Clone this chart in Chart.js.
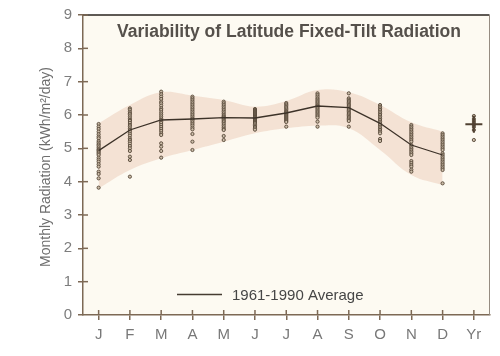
<!DOCTYPE html>
<html>
<head>
<meta charset="utf-8">
<script src="https://cdn.jsdelivr.net/npm/chart.js@4"></script>
<style>
html,body{margin:0;padding:0;background:#ffffff;}
#wrap{width:500px;height:356px;position:relative;}
</style>
</head>
<body>
<div id="wrap"><canvas id="c" width="500" height="356"></canvas></div>
<script>
const months = ['J','F','M','A','M ','J ','J  ','A ','S','O','N','D','Yr'];
const monthLabels = ['J','F','M','A','M','J','J','A','S','O','N','D','Yr'];
const average = [4.93, 5.55, 5.85, 5.88, 5.92, 5.91, 6.06, 6.27, 6.22, 5.75, 5.1, 4.8, null];
const bandHigh = [5.75, 6.3, 6.68, 6.58, 6.45, 6.25, 6.42, 6.75, 6.68, 6.3, 5.78, 5.5, null];
const bandLow  = [3.8, 4.35, 4.7, 4.95, 5.2, 5.45, 5.6, 5.68, 5.6, 4.95, 4.2, 3.9, null];
const yearAverage = 5.72;

const janVals = [5.73,5.65,5.58,5.5,5.42,5.35,5.3,5.22,5.17,5.12,5.08,5.03,4.98,4.95,4.92,4.88,4.84,4.8,4.72,4.66,4.6,4.52,4.45,4.3,4.23,4.1,3.82];
const febVals = [6.2,6.16,6.1,6.05,6.02,5.96,5.9,5.85,5.82,5.76,5.7,5.66,5.6,5.55,5.5,5.44,5.38,5.3,5.25,5.2,5.14,5.07,5.0,4.92,4.75,4.65,4.15];
const marVals = [6.7,6.62,6.55,6.48,6.4,6.35,6.28,6.2,6.15,6.08,6.02,5.96,5.9,5.85,5.8,5.76,5.7,5.64,5.58,5.52,5.45,5.4,5.15,5.05,4.92,4.72];
const aprVals = [6.55,6.5,6.45,6.4,6.35,6.3,6.25,6.2,6.15,6.1,6.05,6.0,5.95,5.9,5.87,5.83,5.78,5.73,5.68,5.62,5.57,5.43,5.2,4.95];
const mayVals = [6.4,6.35,6.3,6.25,6.2,6.15,6.1,6.05,6.0,5.96,5.93,5.9,5.86,5.82,5.78,5.73,5.68,5.63,5.58,5.55,5.37,5.25];
const junVals = [6.18,6.15,6.12,6.09,6.06,6.03,6.0,5.97,5.94,5.92,5.9,5.88,5.85,5.82,5.79,5.76,5.72,5.68,5.64,5.6,5.56];
const julVals = [6.36,6.32,6.28,6.24,6.2,6.16,6.12,6.09,6.06,6.03,6.0,5.97,5.94,5.91,5.88,5.85,5.82,5.79,5.65];
const augVals = [6.65,6.6,6.55,6.5,6.46,6.42,6.38,6.34,6.3,6.27,6.24,6.2,6.16,6.12,6.08,6.04,6.0,5.96,5.92,5.8,5.65];
const sepVals = [6.65,6.5,6.46,6.42,6.38,6.34,6.3,6.26,6.22,6.18,6.14,6.1,6.06,6.02,5.98,5.94,5.9,5.86,5.82,5.65];
const octVals = [6.3,6.25,6.2,6.15,6.1,6.05,6.0,5.95,5.9,5.85,5.8,5.75,5.7,5.65,5.6,5.55,5.5,5.45,5.28,5.22];
const novVals = [5.7,5.65,5.6,5.55,5.5,5.45,5.4,5.35,5.3,5.25,5.2,5.1,5.05,5.0,4.95,4.9,4.85,4.8,4.62,4.56,4.5,4.45,4.36,4.3];
const decVals = [5.45,5.4,5.35,5.3,5.25,5.2,5.15,5.1,5.05,5.0,4.95,4.85,4.8,4.75,4.7,4.65,4.6,4.55,4.5,4.45,4.4,4.35,3.95];
const yrVals = [5.97,5.88,5.82,5.76,5.7,5.64,5.55,5.25];
const yearlyByMonth = [janVals,febVals,marVals,aprVals,mayVals,junVals,julVals,augVals,sepVals,octVals,novVals,decVals,yrVals];

const dotPoints = [];
yearlyByMonth.forEach((vals, i) => vals.forEach(v => dotPoints.push({x: months[i], y: v})));

const axisColor = 'rgb(125,105,85)';
const tickFont = {family: 'Liberation Sans, Arial, sans-serif', size: 15};

const decor = {
  id: 'decor',
  beforeDraw(chart) {
    const {ctx, chartArea: a} = chart;
    ctx.save();
    ctx.fillStyle = 'rgb(253,250,242)';
    ctx.fillRect(a.left, a.top, a.right - a.left, a.bottom - a.top);
    ctx.restore();
  },
  afterDraw(chart) {
    const {ctx, chartArea: a, scales} = chart;
    ctx.save();
    ctx.strokeStyle = 'rgb(40,35,30)';
    ctx.lineWidth = 1.5;
    ctx.beginPath(); ctx.moveTo(a.left, a.top); ctx.lineTo(a.right, a.top); ctx.stroke();
    ctx.strokeStyle = 'rgb(150,140,130)';
    ctx.lineWidth = 1;
    ctx.beginPath(); ctx.moveTo(a.right, a.top); ctx.lineTo(a.right, a.bottom); ctx.stroke();
    ctx.strokeStyle = axisColor;
    ctx.lineWidth = 1.5;
    const y = scales.y, x = scales.x;
    y.ticks.forEach((t, i) => {
      if (t.value === 0) return;
      const py = y.getPixelForTick(i);
      ctx.beginPath(); ctx.moveTo(a.left, py); ctx.lineTo(a.left + 5, py); ctx.stroke();
    });
    x.ticks.forEach((t, i) => {
      const px = x.getPixelForTick(i);
      ctx.beginPath(); ctx.moveTo(px, a.bottom); ctx.lineTo(px, a.bottom - 5); ctx.stroke();
    });
    ctx.fillStyle = 'rgb(85,80,75)';
    ctx.font = 'bold 17.5px "Liberation Sans", Arial, sans-serif';
    ctx.textAlign = 'center';
    ctx.textBaseline = 'alphabetic';
    ctx.fillText('Variability of Latitude Fixed-Tilt Radiation', 289, 37);
    ctx.strokeStyle = 'rgb(70,60,50)';
    ctx.lineWidth = 1.3;
    ctx.beginPath(); ctx.moveTo(177, 294.5); ctx.lineTo(222, 294.5); ctx.stroke();
    ctx.fillStyle = 'rgb(70,70,70)';
    ctx.font = '15px "Liberation Sans", Arial, sans-serif';
    ctx.textAlign = 'left';
    ctx.fillText('1961-1990 Average', 232, 300);
    ctx.save();
    ctx.translate(50, 167);
    ctx.rotate(-Math.PI / 2);
    ctx.fillStyle = 'rgb(110,110,110)';
    ctx.font = '14px "Liberation Sans", Arial, sans-serif';
    ctx.textAlign = 'center';
    ctx.fillText('Monthly Radiation (kWh/m²/day)', 0, 0);
    ctx.restore();
    ctx.restore();
  }
};

new Chart(document.getElementById('c'), {
  type: 'line',
  data: {
    labels: months,
    datasets: [
      {data: bandLow, borderWidth: 0, pointRadius: 0, tension: 0.4, fill: false, order: 5},
      {data: bandHigh, borderWidth: 0, pointRadius: 0, tension: 0.4, fill: '-1', backgroundColor: 'rgba(240,218,202,0.75)', order: 4},
      {data: average, borderColor: 'rgb(60,50,40)', borderWidth: 1.3, pointRadius: 0, tension: 0, fill: false, order: 2},
      {data: dotPoints, showLine: false, pointRadius: 1.6, pointBorderWidth: 0.9,
        pointBorderColor: 'rgb(85,70,55)', pointBackgroundColor: 'rgb(205,190,170)', order: 3},
      {data: months.map((m, i) => i === 12 ? yearAverage : null), showLine: false, pointStyle: 'cross',
        pointRadius: 8.5, pointBorderWidth: 2, pointBorderColor: 'rgb(80,65,50)', order: 1}
    ]
  },
  options: {
    responsive: false,
    animation: false,
    events: [],
    layout: {padding: {left: 0, right: 7, top: 15, bottom: 0}},
    plugins: {legend: {display: false}, tooltip: {enabled: false}, title: {display: false}},
    scales: {
      x: {
        offset: true,
        grid: {drawOnChartArea: false, drawTicks: true, tickLength: 5, color: axisColor, lineWidth: 1.5, offset: false},
        border: {color: axisColor, width: 1.5},
        ticks: {color: 'rgb(120,120,120)', font: tickFont, padding: 6, autoSkip: false, maxRotation: 0,
          callback: (v, i) => monthLabels[i]},
        afterFit: s => { s.height = 41; }
      },
      y: {
        min: 0, max: 9,
        grid: {drawOnChartArea: false, drawTicks: true, tickLength: 5, color: axisColor, lineWidth: 1.5},
        border: {color: axisColor, width: 1.5},
        ticks: {stepSize: 1, color: 'rgb(125,125,125)', font: tickFont, padding: 6},
        afterFit: s => { s.width = 83; }
      }
    }
  },
  plugins: [decor]
});
</script>
</body>
</html>
